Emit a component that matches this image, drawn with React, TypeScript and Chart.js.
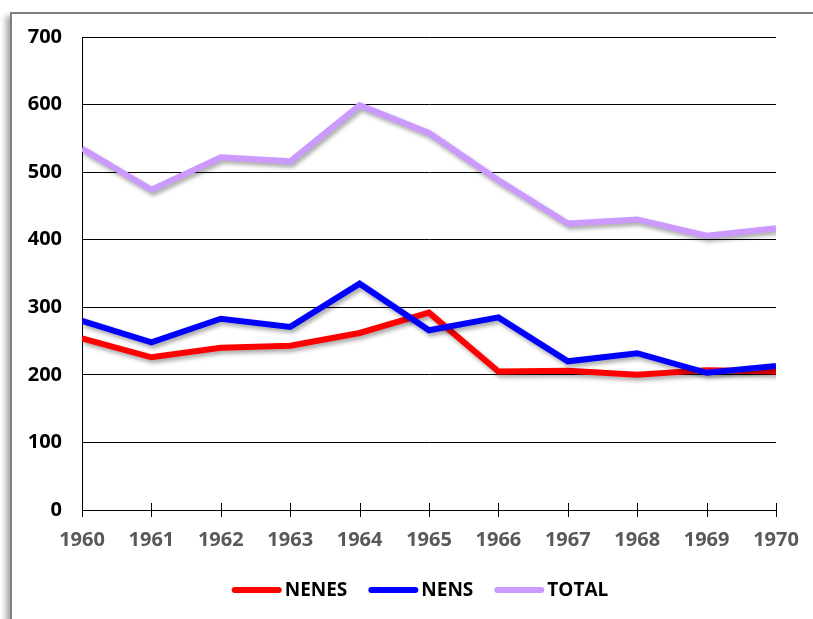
import React, { useEffect, useRef } from "react";
import { Chart, registerables } from "chart.js";

Chart.register(...registerables);

const years = ["1960", "1961", "1962", "1963", "1964", "1965", "1966", "1967", "1968", "1969", "1970"];
const nenes = [254, 226, 240, 243, 262, 292, 205, 206, 200, 207, 205];
const nens = [280, 248, 283, 271, 335, 266, 285, 220, 232, 203, 213];
const total = [535, 474, 522, 516, 599, 558, 488, 424, 430, 406, 417];
const yTicks = [0, 100, 200, 300, 400, 500, 600, 700];

const seriesNames = ["NENES", "NENS", "TOTAL"];
const seriesColors = ["#FF0000", "#0000FF", "#CC99FF"];

const FONT = "'Open Sans', 'DejaVu Sans', sans-serif";

const shadowPlugin = {
  id: "lineShadow",
  beforeDatasetDraw(chart: any) {
    const ctx = chart.ctx;
    ctx.save();
    ctx.shadowColor = "rgba(0,0,0,0.35)";
    ctx.shadowBlur = 4;
    ctx.shadowOffsetX = 2;
    ctx.shadowOffsetY = 3;
  },
  afterDatasetDraw(chart: any) {
    chart.ctx.restore();
  },
};

const xTickPlugin = {
  id: "xTickMarks",
  afterDatasetsDraw(chart: any) {
    const ctx = chart.ctx;
    const xs = chart.scales.x;
    const bottom = chart.chartArea.bottom;
    ctx.save();
    ctx.strokeStyle = "#000000";
    ctx.lineWidth = 1;
    for (let i = 0; i < years.length; i++) {
      const x = Math.round(xs.getPixelForValue(i)) + 0.5;
      ctx.beginPath();
      ctx.moveTo(x, bottom - 7);
      ctx.lineTo(x, bottom + 7);
      ctx.stroke();
    }
    ctx.restore();
  },
};

const legendPlugin = {
  id: "customLegend",
  afterDraw(chart: any) {
    const ctx = chart.ctx;
    ctx.save();
    ctx.font = `bold 19px ${FONT}`;
    const lineW = 50;
    const gap = 3;
    const itemGap = 21;
    const widths = seriesNames.map((n) => ctx.measureText(n).width);
    let totalW = 0;
    widths.forEach((w, i) => {
      totalW += lineW + gap + w + (i < widths.length - 1 ? itemGap : 0);
    });
    let x = 420 - totalW / 2;
    const y = 590;
    seriesNames.forEach((name, i) => {
      ctx.strokeStyle = seriesColors[i];
      ctx.lineWidth = 6;
      ctx.lineCap = "round";
      ctx.beginPath();
      ctx.moveTo(x + 3, y);
      ctx.lineTo(x + lineW - 3, y);
      ctx.stroke();
      ctx.fillStyle = "#000000";
      ctx.textBaseline = "middle";
      ctx.textAlign = "left";
      ctx.fillText(name, x + lineW + gap, y + 1);
      x += lineW + gap + widths[i] + itemGap;
    });
    ctx.restore();
  },
};

export default function App() {
  const ref = useRef<HTMLCanvasElement | null>(null);

  useEffect(() => {
    if (!ref.current) return;
    const dataArrays = [nenes, nens, total];
    const orders = [1, 0, 2];
    const chart = new Chart(ref.current, {
      type: "line",
      data: {
        labels: years,
        datasets: seriesNames.map((name, i) => ({
          label: name,
          data: dataArrays[i],
          borderColor: seriesColors[i],
          backgroundColor: seriesColors[i],
          borderWidth: 6,
          pointRadius: 0,
          pointHoverRadius: 0,
          tension: 0,
          fill: false,
          clip: 0,
          order: orders[i],
          borderCapStyle: "butt",
          borderJoinStyle: "miter",
        })),
      },
      options: {
        responsive: false,
        animation: false,
        events: [],
        layout: { padding: { top: 37, right: 37, left: 0, bottom: 0 } },
        plugins: {
          legend: { display: false },
          tooltip: { enabled: false },
        },
        scales: {
          x: {
            type: "category",
            offset: false,
            grid: { display: false, drawTicks: false },
            border: { display: true, color: "#000000", width: 1 },
            ticks: {
              color: "#595959",
              font: { family: FONT, size: 20, weight: "bold" },
              padding: 18,
              maxRotation: 0,
              autoSkip: false,
            },
            afterFit(scale: any) {
              scale.height = 109;
              scale.paddingLeft = 0;
              scale.paddingRight = 0;
            },
          },
          y: {
            min: 0,
            max: 700,
            afterBuildTicks(scale: any) {
              scale.ticks = yTicks.map((v) => ({ value: v }));
            },
            grid: { color: "#000000", lineWidth: 1, drawTicks: false },
            border: { display: true, color: "#000000", width: 1 },
            ticks: {
              color: "#000000",
              font: { family: FONT, size: 20, weight: "bold" },
              padding: 20,
            },
            afterFit(scale: any) {
              scale.width = 82;
              scale.paddingTop = 0;
              scale.paddingBottom = 0;
            },
          },
        },
      },
      plugins: [shadowPlugin, xTickPlugin, legendPlugin],
    } as any);
    return () => chart.destroy();
  }, []);

  return (
    <div
      style={{
        position: "fixed",
        left: 0,
        top: 0,
        width: 813,
        height: 619,
        overflow: "hidden",
        background: "#ffffff",
      }}
    >
      <div
        style={{
          position: "absolute",
          left: 10,
          top: 12,
          width: 900,
          height: 700,
          border: "2px solid #7f7f7f",
          boxShadow: "-4px 4px 6px rgba(0,0,0,0.35)",
          background: "#ffffff",
        }}
      />
      <canvas
        ref={ref}
        width={813}
        height={619}
        style={{ position: "absolute", left: 0, top: 0, width: 813, height: 619 }}
      />
    </div>
  );
}
